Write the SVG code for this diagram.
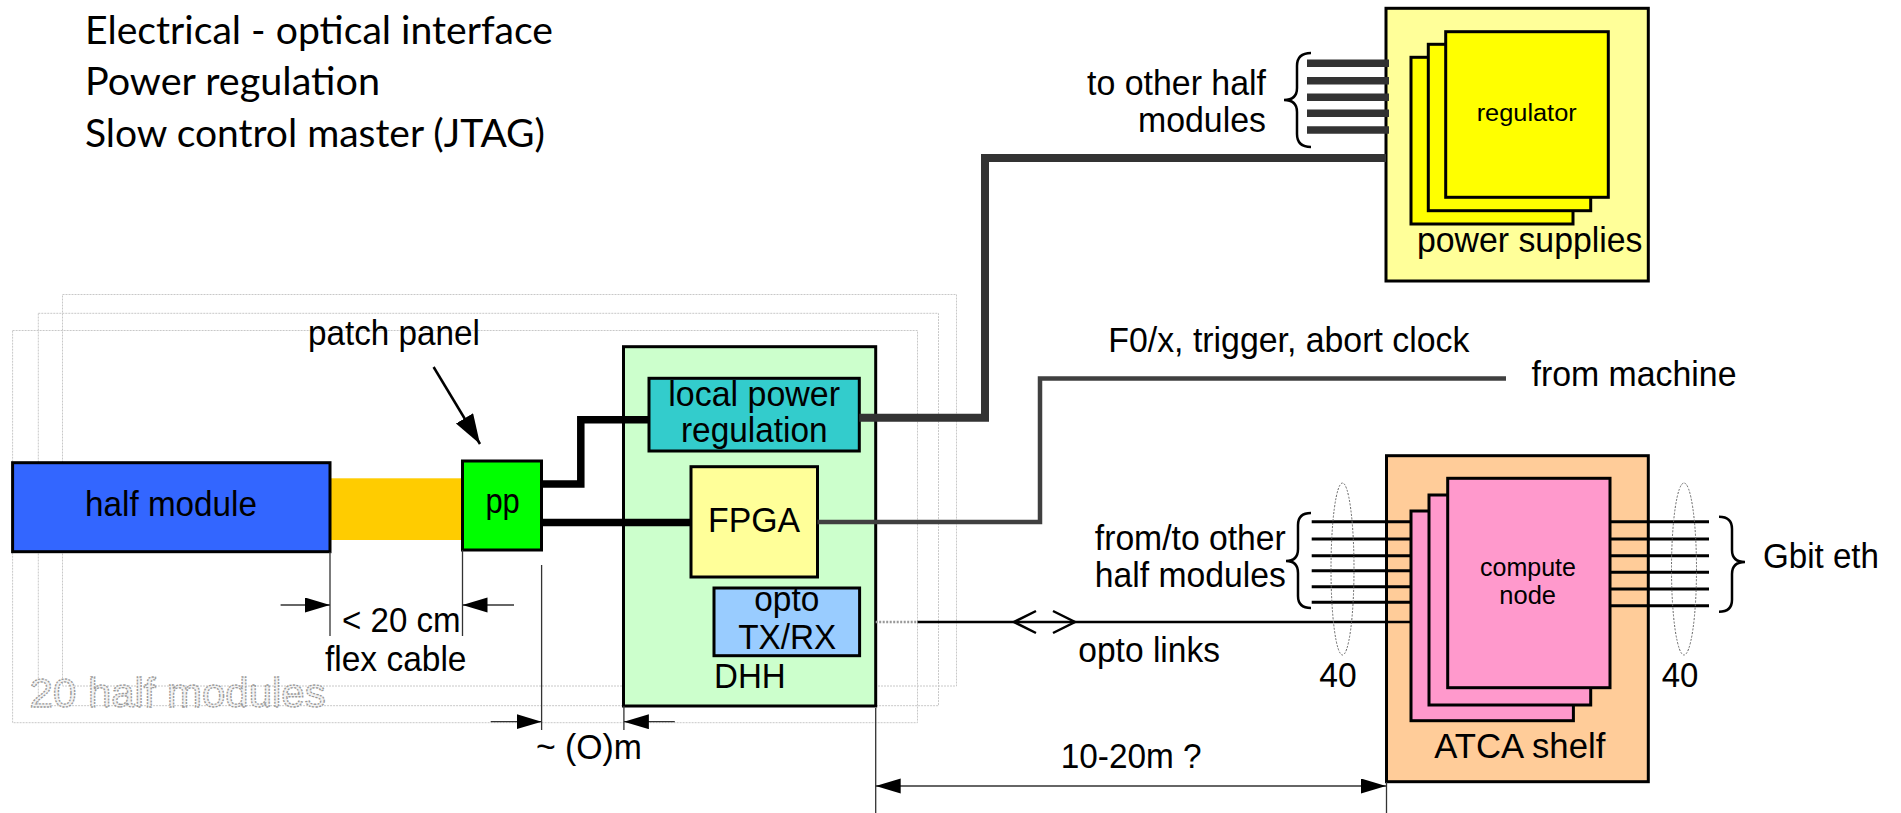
<svg xmlns="http://www.w3.org/2000/svg" width="1901" height="813" viewBox="0 0 1901 813">
<defs>
<style>
.lbl{font-family:"Liberation Sans",Arial,sans-serif;font-size:35px;fill:#000}
.sm{font-size:23px}
.cn{font-size:25px}
.head{font-family:Lato,"Open Sans",sans-serif;font-size:38px;fill:#000}
.box{stroke:#000;stroke-width:3}
.ghost{fill:none;stroke:#c8c8c8;stroke-width:1;stroke-dasharray:2 1}
.dim{stroke:#333;stroke-width:1.3;fill:none}
.bus{stroke:#000;stroke-width:3}
.brace{fill:none;stroke:#000;stroke-width:2.5}
.ell{fill:none;stroke:#666;stroke-width:1;stroke-dasharray:2 1.5}
</style>
<marker id="ah" markerUnits="userSpaceOnUse" markerWidth="26" markerHeight="16" refX="25" refY="7.5" orient="auto-start-reverse">
<path d="M0,0 L25,7.5 L0,15 z" fill="#000"/>
</marker>
<marker id="ahb" markerUnits="userSpaceOnUse" markerWidth="31" markerHeight="22" refX="30" refY="10" orient="auto">
<path d="M0,0 L30,10 L0,20 z" fill="#000"/>
</marker>
</defs>
<rect width="1901" height="813" fill="#fff"/>

<g id="heading">
<text class="head" x="85" y="43.5" textLength="468" lengthAdjust="spacingAndGlyphs">Electrical - optical interface</text>
<text class="head" x="85" y="95" textLength="295" lengthAdjust="spacingAndGlyphs">Power regulation</text>
<text class="head" x="85" y="146.5" textLength="460" lengthAdjust="spacingAndGlyphs">Slow control master (JTAG)</text>
</g>

<g id="half-modules-stack">
<rect class="ghost" x="62.5" y="294.5" width="894" height="391.5"/>
<rect class="ghost" x="38.3" y="313.3" width="900.2" height="392.4"/>
<rect class="ghost" x="12.6" y="330.5" width="904.9" height="392.2"/>
<text x="29.6" y="706.7" font-family="Liberation Sans,Arial,sans-serif" font-size="40" fill="#f2f2f2" stroke="#999" stroke-width="1.3" stroke-dasharray="2 1.2" textLength="296" lengthAdjust="spacingAndGlyphs">20 half modules</text>
</g>

<g id="flex-cable">
<rect x="330" y="478.3" width="132.5" height="61.7" fill="#FFCC00"/>
</g>

<g id="half-module">
<rect class="box" x="12.6" y="462.7" width="317.4" height="89" fill="#3366FF"/>
<text class="lbl" x="85" y="516" textLength="172" lengthAdjust="spacingAndGlyphs">half module</text>
</g>

<g id="pp">
<rect class="box" x="462.5" y="461" width="79" height="89" fill="#00FF00" stroke-width="2.5"/>
<text class="lbl" x="485.4" y="513" textLength="34.4" lengthAdjust="spacingAndGlyphs">pp</text>
</g>

<g id="patch-panel-label">
<text class="lbl" x="308" y="345" textLength="172" lengthAdjust="spacingAndGlyphs">patch panel</text>
</g>

<g id="dhh">
<rect class="box" x="623.5" y="346.7" width="252.2" height="359.3" fill="#CCFFCC"/>
<text class="lbl" x="714" y="688.3" textLength="71.7" lengthAdjust="spacingAndGlyphs">DHH</text>
</g>

<g id="local-power">
<rect class="box" x="649" y="378.3" width="210.3" height="72.7" fill="#33CCCC"/>
<text class="lbl" x="668.3" y="405.5" textLength="171.7" lengthAdjust="spacingAndGlyphs">local power</text>
<text class="lbl" x="681" y="442" textLength="146.5" lengthAdjust="spacingAndGlyphs">regulation</text>
</g>

<g id="fpga">
<rect class="box" x="691" y="466.7" width="126.5" height="110.3" fill="#FFFF99"/>
<text class="lbl" x="708" y="531.5" textLength="92" lengthAdjust="spacingAndGlyphs">FPGA</text>
</g>

<g id="opto">
<rect class="box" x="714" y="588" width="145.6" height="67.7" fill="#99CCFF"/>
<text class="lbl" x="754.3" y="611" textLength="65" lengthAdjust="spacingAndGlyphs">opto</text>
<text class="lbl" x="738.2" y="649" textLength="98" lengthAdjust="spacingAndGlyphs">TX/RX</text>
</g>

<g id="power-supplies">
<rect class="box" x="1386" y="8.3" width="262.3" height="272.7" fill="#FFFF99" stroke-width="2.5"/>
<rect class="box" x="1411" y="57.3" width="162" height="166.7" fill="#FFFF00"/>
<rect class="box" x="1428.3" y="44.3" width="162.4" height="166.4" fill="#FFFF00"/>
<rect class="box" x="1445.7" y="31.7" width="162.6" height="165.6" fill="#FFFF00"/>
<text class="lbl sm" x="1476.7" y="120.5" textLength="100" lengthAdjust="spacingAndGlyphs">regulator</text>
<text class="lbl" x="1417" y="252" textLength="225.5" lengthAdjust="spacingAndGlyphs">power supplies</text>
</g>

<g id="atca-shelf">
<rect class="box" x="1386.5" y="455.7" width="261.8" height="326" fill="#FFCC99"/>
<rect class="box" x="1411" y="511" width="162.4" height="209.7" fill="#FF99CC"/>
<rect class="box" x="1429" y="495" width="161.7" height="210" fill="#FF99CC"/>
<rect class="box" x="1447.7" y="478.3" width="162.3" height="209.4" fill="#FF99CC"/>
<text class="lbl cn" x="1480" y="575.5" textLength="96" lengthAdjust="spacingAndGlyphs">compute</text>
<text class="lbl cn" x="1499.3" y="603.5" textLength="56.7" lengthAdjust="spacingAndGlyphs">node</text>
<text class="lbl" x="1434.3" y="758" textLength="171" lengthAdjust="spacingAndGlyphs">ATCA shelf</text>
</g>

<g id="connectors">
<path d="M541.5,484 H580.8 V419.7 H649" fill="none" stroke="#000" stroke-width="7.5"/>
<path d="M541.5,522.5 H691" fill="none" stroke="#000" stroke-width="7.5"/>
<path d="M859.3,417.7 H985 V158 H1386" fill="none" stroke="#333" stroke-width="8"/>
<g stroke="#333" stroke-width="7.5">
<line x1="1307" y1="63.3" x2="1389" y2="63.3"/>
<line x1="1307" y1="80.7" x2="1389" y2="80.7"/>
<line x1="1307" y1="97.3" x2="1389" y2="97.3"/>
<line x1="1307" y1="113.3" x2="1389" y2="113.3"/>
<line x1="1307" y1="130" x2="1389" y2="130"/>
</g>
<path d="M817.5,522 H1040 V378.5 H1506" fill="none" stroke="#404040" stroke-width="4.5"/>
<line x1="875.7" y1="622" x2="917.5" y2="622" stroke="#999" stroke-width="2.5" stroke-dasharray="2 1.5"/>
<line x1="917.5" y1="622" x2="1411" y2="622" stroke="#000" stroke-width="2.5"/>
<path d="M1036,611 L1014,622 L1036,633 M1053,611 L1075,622 L1053,633" fill="none" stroke="#000" stroke-width="2.5"/>
<g class="bus">
<line x1="1311.7" y1="521.7" x2="1411" y2="521.7"/>
<line x1="1311.7" y1="539" x2="1411" y2="539"/>
<line x1="1311.7" y1="555.7" x2="1411" y2="555.7"/>
<line x1="1311.7" y1="570.7" x2="1411" y2="570.7"/>
<line x1="1311.7" y1="586.7" x2="1411" y2="586.7"/>
<line x1="1311.7" y1="602.3" x2="1411" y2="602.3"/>
<line x1="1610" y1="521.7" x2="1709" y2="521.7"/>
<line x1="1610" y1="539" x2="1709" y2="539"/>
<line x1="1610" y1="555.7" x2="1709" y2="555.7"/>
<line x1="1610" y1="572.3" x2="1709" y2="572.3"/>
<line x1="1610" y1="589" x2="1709" y2="589"/>
<line x1="1610" y1="605.7" x2="1709" y2="605.7"/>
</g>
<ellipse class="ell" cx="1342.5" cy="569" rx="11.5" ry="86"/>
<ellipse class="ell" cx="1684" cy="569" rx="12.5" ry="86"/>
<path class="brace" d="M1311,53 Q1297,53 1297,66 L1297,88 Q1297,100 1284,100 Q1297,100 1297,112 L1297,134 Q1297,147 1311,147"/>
<path class="brace" d="M1311,513 Q1298,513 1298,525 L1298,549 Q1298,561 1286,561 Q1298,561 1298,573 L1298,596 Q1298,608 1311,608"/>
<path class="brace" d="M1719,516.7 Q1732,516.7 1732,529 L1732,550 Q1732,562 1745,562 Q1732,562 1732,574 L1732,599.7 Q1732,611.7 1719,611.7"/>
<line x1="433.6" y1="367" x2="480" y2="444" stroke="#000" stroke-width="2.5" marker-end="url(#ahb)"/>
<line class="dim" x1="330" y1="552" x2="330" y2="636"/>
<line class="dim" x1="462.5" y1="550" x2="462.5" y2="636"/>
<line class="dim" x1="280.6" y1="605" x2="330" y2="605" marker-end="url(#ah)"/>
<line class="dim" x1="514" y1="605" x2="462.5" y2="605" marker-end="url(#ah)"/>
<line class="dim" x1="541.6" y1="565" x2="541.6" y2="730"/>
<line class="dim" x1="623.9" y1="706" x2="623.9" y2="730"/>
<line class="dim" x1="490.7" y1="721.7" x2="541.6" y2="721.7" marker-end="url(#ah)"/>
<line class="dim" x1="674.8" y1="721.7" x2="623.9" y2="721.7" marker-end="url(#ah)"/>
<line class="dim" x1="875.7" y1="708" x2="875.7" y2="813"/>
<line class="dim" x1="1386.5" y1="782" x2="1386.5" y2="813"/>
<line class="dim" x1="875.7" y1="786" x2="1386" y2="786" marker-start="url(#ah)" marker-end="url(#ah)"/>
</g>

<g id="labels">
<text class="lbl" x="342" y="632" textLength="118.6" lengthAdjust="spacingAndGlyphs">&lt; 20 cm</text>
<text class="lbl" x="325" y="671" textLength="141.5" lengthAdjust="spacingAndGlyphs">flex cable</text>
<text class="lbl" x="536" y="759" textLength="106" lengthAdjust="spacingAndGlyphs">~ (O)m</text>
<text class="lbl" x="1087" y="95" textLength="179" lengthAdjust="spacingAndGlyphs">to other half</text>
<text class="lbl" x="1138" y="131.7" textLength="128" lengthAdjust="spacingAndGlyphs">modules</text>
<text class="lbl" x="1108.3" y="351.7" textLength="361" lengthAdjust="spacingAndGlyphs">F0/x, trigger, abort clock</text>
<text class="lbl" x="1531.5" y="386" textLength="205" lengthAdjust="spacingAndGlyphs">from machine</text>
<text class="lbl" x="1094.8" y="550" textLength="191" lengthAdjust="spacingAndGlyphs">from/to other</text>
<text class="lbl" x="1094.8" y="587.3" textLength="191" lengthAdjust="spacingAndGlyphs">half modules</text>
<text class="lbl" x="1078.3" y="661.7" textLength="141.7" lengthAdjust="spacingAndGlyphs">opto links</text>
<text class="lbl" x="1319.3" y="686.7" textLength="37.4" lengthAdjust="spacingAndGlyphs">40</text>
<text class="lbl" x="1661.7" y="686.7" textLength="36.7" lengthAdjust="spacingAndGlyphs">40</text>
<text class="lbl" x="1763" y="568" textLength="116" lengthAdjust="spacingAndGlyphs">Gbit eth</text>
<text class="lbl" x="1060.7" y="768.3" textLength="141" lengthAdjust="spacingAndGlyphs">10-20m ?</text>
</g>
</svg>
